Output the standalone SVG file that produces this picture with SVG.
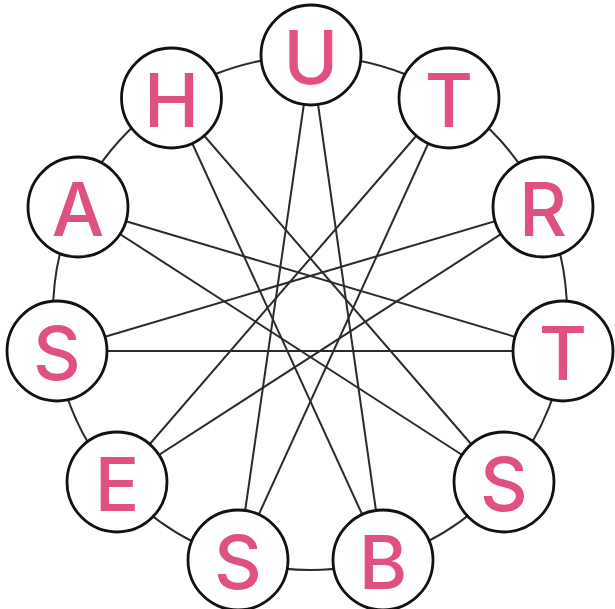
<svg xmlns="http://www.w3.org/2000/svg" width="615" height="609" viewBox="0 0 615 609">
<style>
.bg{fill:#fff}
.ring{fill:none;stroke:#2a2a2a;stroke-width:2}
.edge{stroke:#2a2a2a;stroke-width:2;fill:none}
.node circle{fill:#fff;stroke:#111;stroke-width:2.8}
.node text{fill:#E0517F;font-family:Inter,"Liberation Sans",sans-serif;font-weight:550;font-size:74px;text-anchor:middle}
</style>
<rect class="bg" width="615" height="609"/>
<g id="connectors">
<circle class="ring" cx="310" cy="313" r="257"/>
<line class="edge" x1="311" y1="55" x2="383" y2="560"/>
<line class="edge" x1="311" y1="55" x2="238" y2="560"/>
<line class="edge" x1="449" y1="98" x2="238" y2="560"/>
<line class="edge" x1="449" y1="98" x2="117" y2="482"/>
<line class="edge" x1="543" y1="207" x2="117" y2="482"/>
<line class="edge" x1="543" y1="207" x2="57" y2="351"/>
<line class="edge" x1="563" y1="351" x2="57" y2="351"/>
<line class="edge" x1="563" y1="351" x2="78" y2="207"/>
<line class="edge" x1="504" y1="482" x2="78" y2="207"/>
<line class="edge" x1="504" y1="482" x2="171.5" y2="98"/>
<line class="edge" x1="383" y1="560" x2="171.5" y2="98"/>
</g>
<g id="n0" class="node"><circle cx="311" cy="55" r="50"/><text x="311" y="84">U</text></g>
<g id="n1" class="node"><circle cx="449" cy="98" r="50"/><text x="449" y="127">T</text></g>
<g id="n2" class="node"><circle cx="543" cy="207" r="50"/><text x="543" y="236">R</text></g>
<g id="n3" class="node"><circle cx="563" cy="351" r="50"/><text x="563" y="380">T</text></g>
<g id="n4" class="node"><circle cx="504" cy="482" r="50"/><text x="504" y="511">S</text></g>
<g id="n5" class="node"><circle cx="383" cy="560" r="50"/><text x="383" y="589">B</text></g>
<g id="n6" class="node"><circle cx="238" cy="560" r="50"/><text x="238" y="589">S</text></g>
<g id="n7" class="node"><circle cx="117" cy="482" r="50"/><text x="117" y="511">E</text></g>
<g id="n8" class="node"><circle cx="57" cy="351" r="50"/><text x="57" y="380">S</text></g>
<g id="n9" class="node"><circle cx="78" cy="207" r="50"/><text x="78" y="236">A</text></g>
<g id="n10" class="node"><circle cx="171.5" cy="98" r="50"/><text x="171.5" y="127">H</text></g>
</svg>
